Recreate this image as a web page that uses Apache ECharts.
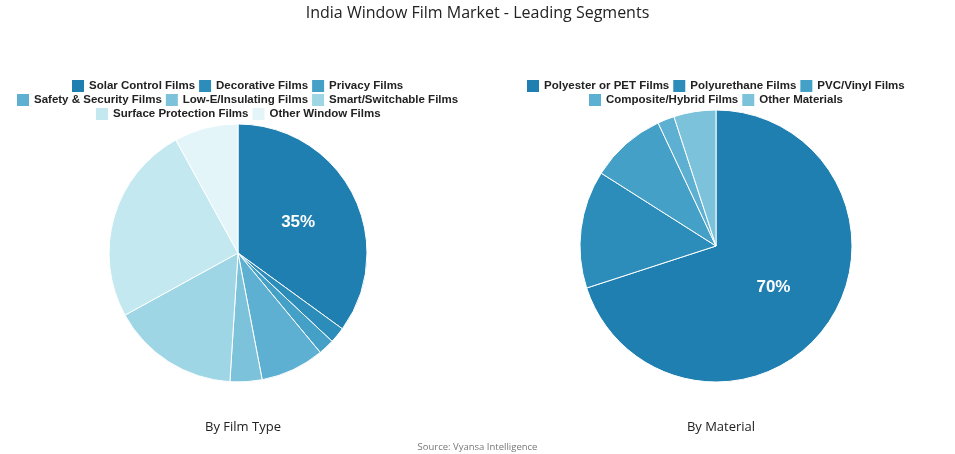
<!DOCTYPE html>
<html>
<head>
<meta charset="utf-8">
<script src="https://cdn.jsdelivr.net/npm/echarts@6/dist/echarts.min.js"></script>
<style>html,body{margin:0;padding:0;background:#fff}#c{width:955px;height:454px}</style>
</head>
<body>
<div id="c"></div>
<script>
const filmTypes = ["Solar Control Films","Decorative Films","Privacy Films","Safety & Security Films","Low-E/Insulating Films","Smart/Switchable Films","Surface Protection Films","Other Window Films"];
const filmValues = [35, 2, 2, 8, 4, 16, 25, 8];
const filmColors = ["#1f7fb0","#2d8dba","#44a0c6","#5db0d1","#7cc2da","#9fd6e5","#c3e8ef","#e3f5f9"];
const filmLegendRows = [[0,3],[3,6],[6,8]];
const materials = ["Polyester or PET Films","Polyurethane Films","PVC/Vinyl Films","Composite/Hybrid Films","Other Materials"];
const materialValues = [70, 14, 9, 2, 5];
const materialColors = ["#1f7fb0","#2d8dba","#44a0c6","#5db0d1","#7cc2da"];
const materialLegendRows = [[0,3],[3,5]];

const FONT = 'Liberation Sans, Arial, sans-serif';
const LFS = 11.5, IW = 12, IGAP = 4, TGAP = 5;
const ctx = document.createElement('canvas').getContext('2d');
ctx.font = 'bold ' + LFS + 'px ' + FONT;
function rowWidth(names){
  let w = 0;
  names.forEach((n,i)=>{ w += IW + TGAP + ctx.measureText(n).width; if(i) w += IGAP; });
  return w;
}
const legendText = {fontFamily:FONT,fontWeight:'bold',fontSize:LFS,color:'#222'};
function mkLegends(names, rows, cx, top0){
  return rows.map((r,k)=>{
    const items = names.slice(r[0], r[1]);
    const w = rowWidth(items);
    return {data:items,left:Math.round(cx - w/2),top:top0 + k*14,icon:'rect',itemWidth:IW,itemHeight:IW,itemGap:IGAP,padding:0,
      itemStyle:{borderWidth:0},textStyle:legendText,orient:'horizontal'};
  });
}
const chart = echarts.init(document.getElementById('c'));
function mkData(names, vals, cols){
  return names.map((n,i)=>({name:n,value:vals[i],itemStyle:{color:cols[i]},label:{show:i===0}}));
}
const sub = {fontFamily:'Open Sans, sans-serif',fontWeight:'normal',fontSize:13,color:'#222'};
chart.setOption({
  animation:false,
  title:[
    {text:'India Window Film Market - Leading Segments',left:'center',top:0,textStyle:{fontFamily:'Open Sans, sans-serif',fontWeight:'normal',fontSize:16,color:'#222'}},
    {text:'By Film Type',left:238,top:416,textAlign:'center',textStyle:sub},
    {text:'By Material',left:716,top:416,textAlign:'center',textStyle:sub},
    {text:'Source: Vyansa Intelligence',left:'center',top:437,textStyle:{fontFamily:'Open Sans, sans-serif',fontWeight:'normal',fontSize:9.5,color:'#777'}}
  ],
  legend: mkLegends(filmTypes, filmLegendRows, 238, 80).concat(mkLegends(materials, materialLegendRows, 716, 80)),
  series:[
    {type:'pie',center:[238,253],radius:129,startAngle:90,clockwise:true,data:mkData(filmTypes,filmValues,filmColors),
     itemStyle:{borderColor:'#fff',borderWidth:1},
     label:{position:'inside',formatter:'{d}%',color:'#fff',fontWeight:'bold',fontSize:17,fontFamily:FONT},
     labelLine:{show:false},emphasis:{disabled:true}},
    {type:'pie',center:[716,246],radius:136,startAngle:90,clockwise:true,data:mkData(materials,materialValues,materialColors),
     itemStyle:{borderColor:'#fff',borderWidth:1},
     label:{position:'inside',formatter:'{d}%',color:'#fff',fontWeight:'bold',fontSize:17,fontFamily:FONT},
     labelLine:{show:false},emphasis:{disabled:true}}
  ]
});
</script>
</body>
</html>
